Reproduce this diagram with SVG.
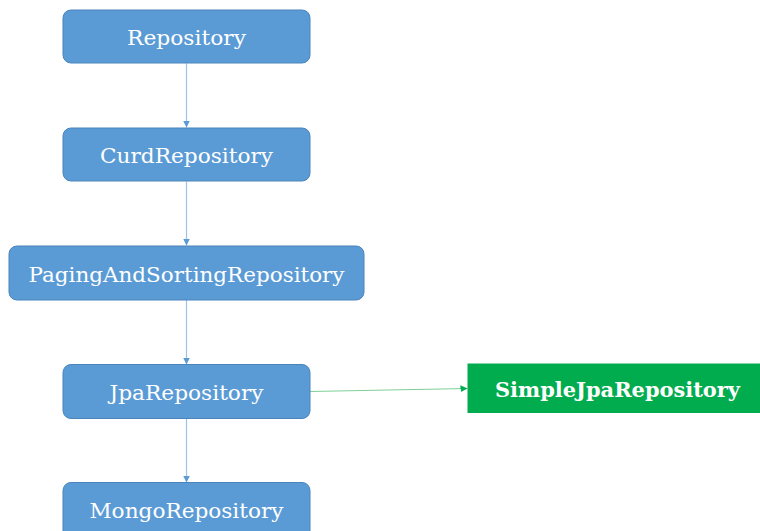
<svg xmlns="http://www.w3.org/2000/svg" width="760" height="531" viewBox="0 0 760 531">
  <defs>
    <marker id="arrBlue" viewBox="0 0 10 10" refX="10" refY="5" markerWidth="7" markerHeight="7" markerUnits="userSpaceOnUse" orient="auto">
      <path d="M0,0 L10,5 L0,10 Z" fill="#5b9bd5"/>
    </marker>
    <marker id="arrGreen" viewBox="0 0 10 10" refX="10" refY="5" markerWidth="7" markerHeight="7" markerUnits="userSpaceOnUse" orient="auto">
      <path d="M0,0 L10,5 L0,10 Z" fill="#00ac4e"/>
    </marker>
  </defs>
  <style>
    .box { fill: #5b9bd5; stroke: #4a84bb; stroke-width: 1; }
    .lbl { font-family: "DejaVu Serif", "Liberation Serif", serif; font-size: 21px; fill: #ffffff; text-anchor: middle; }
    .impl { fill: #00ac4e; }
    .implLbl { font-family: "DejaVu Serif", "Liberation Serif", serif; font-size: 21px; font-weight: bold; fill: #ffffff; text-anchor: middle; }
    .edge { stroke: #9dc3e6; stroke-width: 1.2; fill: none; }
    .edgeGreen { stroke: #7fcf99; stroke-width: 1.2; fill: none; }
  </style>
  <rect width="760" height="531" fill="#ffffff"/>

  <g id="connectors">
    <line class="edge" x1="186.5" y1="63.5" x2="186.5" y2="127.5" marker-end="url(#arrBlue)"/>
    <line class="edge" x1="186.5" y1="181.5" x2="186.5" y2="245.5" marker-end="url(#arrBlue)"/>
    <line class="edge" x1="186.5" y1="300" x2="186.5" y2="364.5" marker-end="url(#arrBlue)"/>
    <line class="edge" x1="186.5" y1="418.5" x2="186.5" y2="482.5" marker-end="url(#arrBlue)"/>
    <line class="edgeGreen" x1="310" y1="391.5" x2="467.5" y2="388.5" marker-end="url(#arrGreen)"/>
  </g>

  <g id="repository">
    <rect class="box" x="63" y="10" width="247" height="53" rx="8"/>
    <text class="lbl" x="186.5" y="45" textLength="119" lengthAdjust="spacingAndGlyphs">Repository</text>
  </g>
  <g id="curdRepository">
    <rect class="box" x="63" y="128" width="247" height="53" rx="8"/>
    <text class="lbl" x="186.5" y="163" textLength="173" lengthAdjust="spacingAndGlyphs">CurdRepository</text>
  </g>
  <g id="pagingAndSortingRepository">
    <rect class="box" x="9" y="246" width="355" height="54" rx="8"/>
    <text class="lbl" x="186.5" y="281.5" textLength="316" lengthAdjust="spacingAndGlyphs">PagingAndSortingRepository</text>
  </g>
  <g id="jpaRepository">
    <rect class="box" x="63" y="364.5" width="247" height="54" rx="8"/>
    <text class="lbl" x="186.5" y="399.5" textLength="154" lengthAdjust="spacingAndGlyphs">JpaRepository</text>
  </g>
  <g id="mongoRepository">
    <rect class="box" x="63" y="482.5" width="247" height="60" rx="8"/>
    <text class="lbl" x="186.5" y="518" textLength="194" lengthAdjust="spacingAndGlyphs">MongoRepository</text>
  </g>
  <g id="simpleJpaRepository">
    <rect class="impl" x="467.5" y="363.5" width="300" height="49.5"/>
    <text class="implLbl" x="617.5" y="396.5" textLength="245" lengthAdjust="spacingAndGlyphs">SimpleJpaRepository</text>
  </g>
</svg>
